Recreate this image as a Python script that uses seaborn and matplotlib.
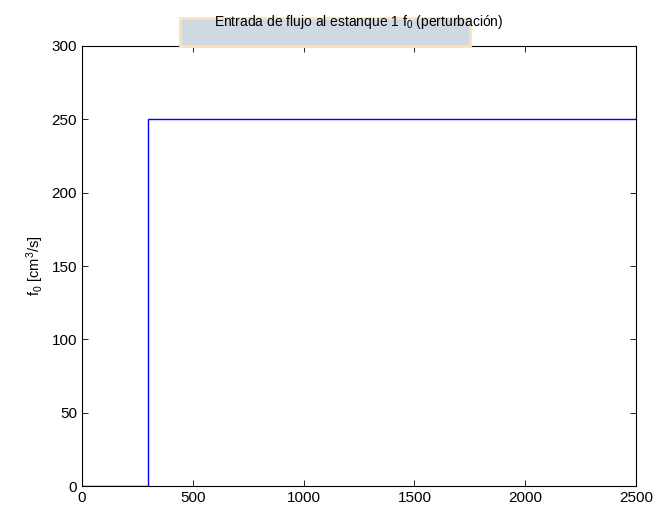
import matplotlib
matplotlib.use("Agg")
import matplotlib.pyplot as plt
from matplotlib.patches import Rectangle
import seaborn as sns
import pandas as pd

# step input data
tiempo = [0, 300, 2500]
f0 = [0, 250, 250]

df = pd.DataFrame({"t": tiempo, "f0": f0})

sns.set_style("ticks")
plt.rcParams['font.family'] = ['Liberation Sans', 'DejaVu Sans']
plt.rcParams['mathtext.default'] = 'regular'
plt.rcParams['text.color'] = 'black'
plt.rcParams['axes.labelcolor'] = 'black'
plt.rcParams['xtick.color'] = 'black'
plt.rcParams['ytick.color'] = 'black'
plt.rcParams['axes.edgecolor'] = 'black'

fig = plt.figure(figsize=(6.56, 5.09), dpi=100)
ax = fig.add_axes([82/656, 1 - 486/509, (636-82)/656, (486-46)/509])

# leftover highlight box behind the title
fig.patches.append(Rectangle((180/656, 1 - 46/509), 290/656, 28/509,
                             transform=fig.transFigure, facecolor='#cfd9e2',
                             edgecolor='#fbe2b8', linewidth=2, zorder=0))

sns.lineplot(data=df, x="t", y="f0", ax=ax, color='#0000ff', linewidth=1,
             drawstyle='steps-post', estimator=None)

ax.set_xlim(0, 2500)
ax.set_ylim(0, 300)
ax.set_xticks(range(0, 2501, 500))
ax.set_yticks(range(0, 301, 50))
ax.tick_params(direction='in', top=True, right=True, length=4, labelsize=11, width=0.6)
for s in ax.spines.values():
    s.set_visible(True)
    s.set_linewidth(0.8)
ax.set_xlabel("")
ax.set_ylabel("f$_0$ [cm$^3$/s]", fontsize=10.5)
fig.text(0.5*(82+636)/656, 1 - 22/509, "Entrada de flujo al estanque 1 f$_0$ (perturbación)",
         ha='center', va='center', fontsize=10)

fig.savefig("out.png", dpi=100)
